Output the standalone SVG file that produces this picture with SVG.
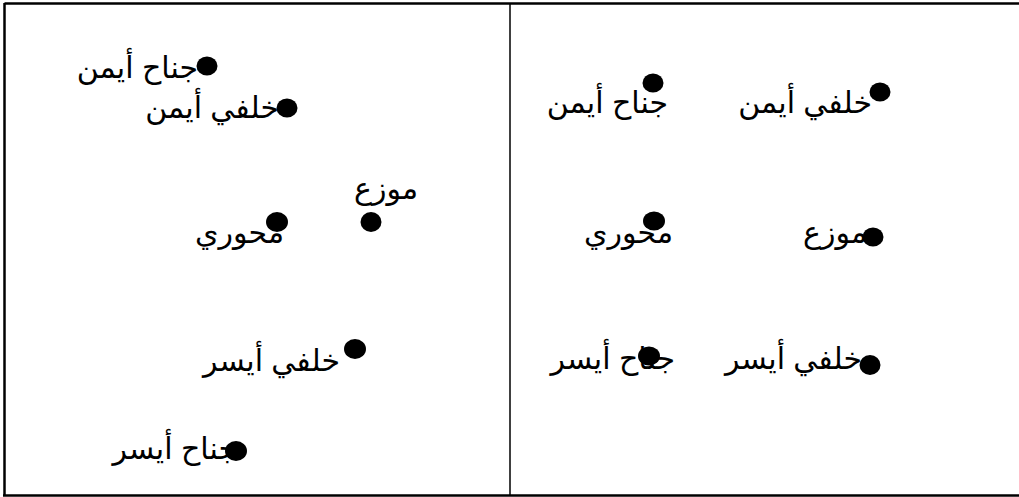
<svg xmlns="http://www.w3.org/2000/svg" width="1019" height="497" viewBox="0 0 1019 497">
<style>
.t{font-family:"Liberation Sans","DejaVu Sans",Arial,sans-serif;font-size:30px;fill:#000;text-anchor:end}
.d{fill:#000}
.f{stroke:#000;fill:none}
</style>
<rect width="1019" height="497" fill="#fff"/>
<g id="frame">
<line class="f" x1="4.5" y1="3.5" x2="1019" y2="3.5" stroke-width="2.5"/>
<line class="f" x1="4.5" y1="3" x2="4.5" y2="496" stroke-width="2.5"/>
<line class="f" x1="3" y1="495.5" x2="1019" y2="495.5" stroke-width="2.5"/>
<line class="f" x1="510" y1="3" x2="510" y2="495" stroke-width="1.5"/>
</g>
<g id="connectors"></g>
<g id="l-rw"><text class="t" x="198" y="78">جناح أيمن</text><ellipse class="d" cx="207" cy="66" rx="10.5" ry="9.5"/></g>
<g id="l-rb"><text class="t" x="279" y="118">خلفي أيمن</text><ellipse class="d" cx="287" cy="108" rx="10.5" ry="9.5"/></g>
<g id="l-pm"><text class="t" x="418" y="199">موزع</text><ellipse class="d" cx="371" cy="222" rx="10.5" ry="10"/></g>
<g id="l-cb"><text class="t" x="284" y="243">محوري</text><ellipse class="d" cx="277" cy="222" rx="11" ry="10"/></g>
<g id="l-lb"><text class="t" x="340" y="371">خلفي أيسر</text><ellipse class="d" cx="355" cy="349" rx="11" ry="10"/></g>
<g id="l-lw"><text class="t" x="237" y="459">جناح أيسر</text><ellipse class="d" cx="236" cy="451" rx="11" ry="10"/></g>
<g id="r-rw"><text class="t" x="668" y="113">جناح أيمن</text><ellipse class="d" cx="653" cy="83" rx="10.5" ry="9.5"/></g>
<g id="r-rb"><text class="t" x="872" y="113">خلفي أيمن</text><ellipse class="d" cx="880" cy="92" rx="10.5" ry="9.5"/></g>
<g id="r-cb"><text class="t" x="673" y="243">محوري</text><ellipse class="d" cx="654" cy="221" rx="11" ry="9.5"/></g>
<g id="r-pm"><text class="t" x="867" y="243">موزع</text><ellipse class="d" cx="873" cy="237" rx="10.5" ry="9.5"/></g>
<g id="r-lw"><text class="t" x="675" y="369">جناح أيسر</text><ellipse class="d" cx="649" cy="356" rx="11" ry="9.5"/></g>
<g id="r-lb"><text class="t" x="862" y="369">خلفي أيسر</text><ellipse class="d" cx="870" cy="365" rx="10.5" ry="10"/></g>
</svg>
